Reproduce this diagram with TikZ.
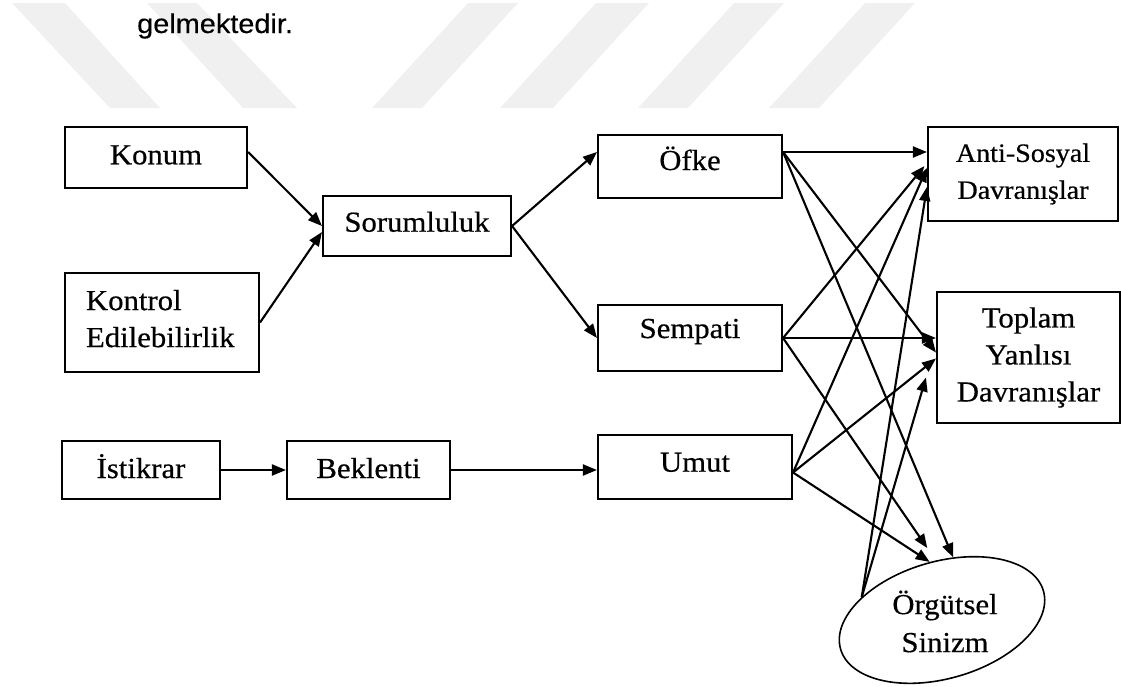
\documentclass[tikz,border=0pt]{standalone}
\usepackage{fontspec}
\setmainfont{Liberation Serif}[FakeStretch=1.06,FakeBold=0.5]
\newfontfamily\leadfont{Liberation Sans}[FakeStretch=1.07,FakeBold=0.3]
\usetikzlibrary{arrows.meta,shapes.geometric}

\newcommand\diagfont{\fontsize{29}{37}\selectfont}
\newcommand\diagsmallfont{\fontsize{26.5}{37}\selectfont}

\tikzset{
  stripe/.style={fill=black!6, draw=none},
  box/.style={draw, line width=2.1pt, inner sep=0pt, align=center, font=\diagfont},
  onebox/.style={box, text height=19pt, text depth=5pt},
  conn/.style={line width=2.1pt, -{Triangle[length=14pt,width=11pt]}},
}

\begin{document}
\begin{tikzpicture}[x=1pt,y=-1pt]
\useasboundingbox (0,0) rectangle (1121,686);

% light diagonal band pattern behind the heading
\fill[stripe] (12,3) -- (65,3) -- (160,108) -- (110,108) -- cycle;
\fill[stripe] (147,3) -- (197,3) -- (297,108) -- (243,108) -- cycle;
\fill[stripe] (468,3) -- (518,3) -- (422,108) -- (372,108) -- cycle;
\fill[stripe] (596,3) -- (649,3) -- (553,108) -- (500,108) -- cycle;
\fill[stripe] (734,3) -- (784,3) -- (688,108) -- (638,108) -- cycle;
\fill[stripe] (865,3) -- (915,3) -- (819,108) -- (769,108) -- cycle;

% closing word of the preceding paragraph
\node[font=\leadfont\fontsize{27}{32}\selectfont, anchor=base west, inner sep=0pt] (lead) at (137,33) {gelmektedir.};

% antecedents
\node[onebox, minimum width=182pt, minimum height=61pt, text depth=5.4pt] (konum) at (156,157.5) {Konum};
\node[box, minimum width=194pt, minimum height=99pt, text width=152pt, inner xsep=21pt, align=left] (kontrol) at (162,322.5) {Kontrol\\Edilebilirlik\rule[-8pt]{0pt}{8pt}};
\node[onebox, minimum width=158pt, minimum height=58pt, text depth=3pt] (istikrar) at (141,470) {İstikrar};

% mediators
\node[onebox, minimum width=188pt, minimum height=60pt, text depth=7.6pt] (soruml) at (417,226) {Sorumluluk};
\node[onebox, minimum width=163pt, minimum height=58pt, text depth=3pt] (beklenti) at (368.5,470) {Beklenti};

% emotions
\node[onebox, minimum width=184pt, minimum height=63pt, text depth=12pt] (ofke) at (690,166.5) {Öfke};
\node[onebox, minimum width=184pt, minimum height=66pt, text depth=19pt] (sempati) at (690,338) {Sempati};
\node[onebox, minimum width=194pt, minimum height=64pt, text depth=9.6pt] (umut) at (695,467) {Umut};

% outcomes
\node[box, font=\diagsmallfont, minimum width=190pt, minimum height=94pt] (anti) at (1023,174) {Anti-Sosyal\\Davranışlar};
\node[box, minimum width=183pt, minimum height=131pt] (toplam) at (1028.5,357.5) {Toplam\\Yanlısı\\Davranışlar};
\node[ellipse, draw, line width=1.6pt, inner sep=0pt, minimum width=211pt, minimum height=117pt, rotate=16] (orgE) at (942,620) {};
\node[font=\fontsize{29}{38}\selectfont, align=center, inner sep=0pt] (orgText) at (945,621.5) {Örgütsel\\Sinizm};

% attribution paths
\draw[conn] ([yshift=5.5pt]konum.east) -- (soruml.west);
\draw[conn] (kontrol.east) -- ([yshift=-6pt]soruml.west);
\draw[conn] (soruml.east) -- ([yshift=14.5pt]ofke.west);
\draw[conn] (soruml.east) -- (sempati.west);
\draw[conn] (istikrar.east) -- (beklenti.west);
\draw[conn] (beklenti.east) -- (beklenti.east -| umut.west);

% from Öfke
\draw[conn] ([yshift=14.5pt]ofke.east) -- ([yshift=22pt]anti.west);
\draw[conn] ([yshift=14.5pt]ofke.east) -- ([yshift=5pt]toplam.west);
\draw[conn] ([yshift=14.5pt]ofke.east) -- (orgE.64);

% from Sempati
\draw[conn, shorten >=4pt] (sempati.east) -- ([yshift=11pt]anti.west);
\draw[conn] (sempati.east) -- (sempati.east -| toplam.west);
\draw[conn, shorten >=15pt] (sempati.east) -- (orgE.80);

% from Umut
\draw[conn] ([yshift=-5.5pt]umut.east) -- ([yshift=6pt]anti.west);
\draw[conn] ([yshift=-5.5pt]umut.east) -- ([yshift=-1pt]toplam.west);
\draw[conn] ([yshift=-5.5pt]umut.east) -- (orgE.86);

% from Örgütsel Sinizm
\draw[conn] (orgE.148) -- ([yshift=-13pt]anti.west);
\draw[conn] (orgE.148) -- ([xshift=-10pt,yshift=-20pt]toplam.west);
\end{tikzpicture}
\end{document}
